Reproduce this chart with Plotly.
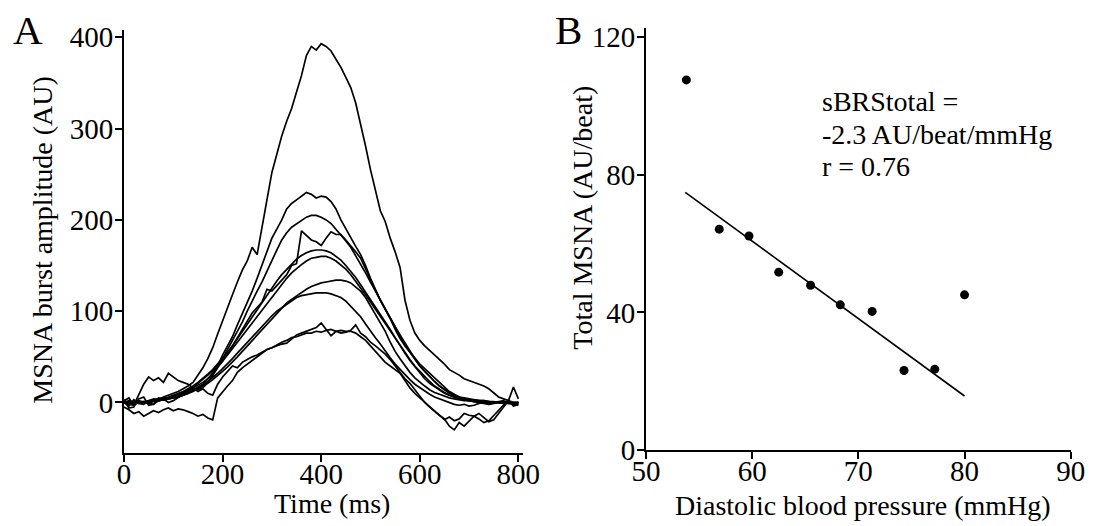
import plotly.graph_objects as go

# ---------------- Panel A data: MSNA burst traces (AU) vs time (ms) ----------------
time_ms = list(range(0, 801, 10))

burst_1 = [0, -4, 3, -1, -2, 2, 4, 3, 6, 8,
           10, 12, 15, 18, 22, 30, 38, 48, 60, 75,
           90, 104, 118, 132, 145, 155, 170, 162, 192, 225,
           252, 272, 292, 308, 322, 340, 358, 380, 390, 386,
           393, 390, 385, 376, 367, 356, 345, 328, 305, 281,
           255, 232, 210, 198, 180, 165, 148, 112, 90, 76,
           68, 62, 57, 52, 48, 42, 36, 33, 30, 26,
           24, 22, 20, 18, 15, 10, 6, 4, 2, 0,
           -2]
burst_2 = [2, -2, -3, 1, 1, -1, -2, 2, 3, 4,
           5, 7, 8, 12, 15, 14, 16, 22, 30, 40,
           52, 62, 72, 85, 97, 110, 122, 136, 150, 165,
           180, 190, 200, 212, 218, 222, 226, 230, 228, 224,
           226, 225, 220, 212, 200, 190, 180, 171, 162, 150,
           136, 124, 112, 102, 92, 80, 70, 62, 55, 48,
           42, 37, 32, 27, 22, 17, 12, 9, 6, 5,
           4, 3, 2, 2, 1, 0, 0, -1, -1, 0,
           0]
burst_3 = [0, 1, 1, 0, 0, 1, 2, 2, 3, 5,
           6, 8, 10, 13, 16, 19, 22, 26, 30, 38,
           48, 58, 68, 78, 88, 100, 112, 122, 132, 144,
           155, 167, 178, 186, 192, 196, 200, 203, 205, 205,
           203, 200, 196, 190, 184, 177, 170, 161, 152, 142,
           132, 122, 112, 102, 92, 82, 72, 63, 55, 47,
           40, 34, 28, 23, 18, 14, 10, 8, 6, 4,
           3, 3, 2, 2, 1, 1, 0, 0, 0, 0,
           0]
burst_4 = [3, -6, -5, 4, 6, -3, -2, 5, 4, 0,
           2, 6, 9, 11, 14, 17, 20, 26, 32, 38,
           45, 53, 62, 71, 80, 88, 98, 104, 110, 124,
           122, 128, 134, 140, 150, 152, 188, 183, 178, 176,
           172, 180, 187, 184, 184, 178, 172, 165, 158, 146,
           135, 123, 112, 102, 92, 83, 74, 65, 56, 48,
           40, 34, 28, 23, 18, 14, 10, 7, 4, 3,
           2, 1, 0, -1, -2, 0, 1, 2, -1, -2,
           -3]
burst_5 = [0, -1, 1, 0, 1, 2, 3, 4, 5, 6,
           8, 10, 12, 15, 18, 22, 26, 31, 36, 42,
           48, 55, 62, 70, 78, 86, 94, 102, 110, 118,
           126, 133, 140, 146, 152, 157, 161, 164, 166, 167,
           167, 166, 164, 160, 156, 150, 144, 137, 129, 121,
           112, 104, 96, 88, 80, 71, 62, 54, 46, 39,
           32, 26, 21, 17, 13, 10, 8, 6, 4, 3,
           2, 2, 1, 1, 0, 0, 0, 0, 0, 0,
           0]
burst_6 = [0, 1, 0, -1, 0, 1, 2, 3, 4, 5,
           7, 9, 11, 14, 17, 21, 25, 30, 35, 40,
           46, 52, 59, 66, 73, 80, 88, 95, 102, 109,
           116, 123, 130, 136, 142, 147, 151, 155, 158, 159,
           160, 160, 158, 155, 151, 146, 140, 133, 126, 118,
           110, 102, 94, 86, 78, 70, 62, 54, 47, 40,
           34, 28, 23, 18, 14, 11, 8, 6, 5, 4,
           3, 2, 2, 1, 1, 0, 0, -1, 0, -1,
           0]
burst_7 = [0, 2, -1, 1, 0, 1, 2, 2, 3, 4,
           5, 6, 8, 10, 12, 15, 18, 21, 25, 29,
           34, 39, 44, 50, 56, 62, 68, 74, 80, 86,
           92, 98, 104, 109, 113, 117, 121, 124, 127, 129,
           131, 132, 133, 134, 134, 133, 131, 127, 122, 115,
           106, 97, 88, 78, 66, 56, 48, 40, 33, 27,
           22, 18, 14, 11, 9, 7, 5, 4, 3, 2,
           2, 1, 1, 0, 0, 0, 0, 0, -1, 0,
           0]
burst_8 = [0, -2, 1, 2, 0, -1, 1, 2, 3, 4,
           5, 6, 8, 10, 13, 16, 19, 23, 27, 32,
           37, 42, 48, 54, 60, 66, 72, 77, 83, 89,
           95, 100, 104, 108, 112, 115, 117, 118, 119, 120,
           120, 120, 119, 117, 115, 111, 105, 99, 94, 86,
           78, 71, 64, 56, 49, 42, 36, 30, 25, 20,
           16, 12, 9, 6, 4, 2, 0, -2, -3, -2,
           -4, -3, -1, 0, -2, -1, 0, 1, 0, -1,
           0]
burst_9 = [-5, -8, -12, -10, -15, -12, -9, -11, -8, -6,
           -9, -7, -8, -10, -12, -15, -13, -17, -19, 5,
           12, 18, 24, 33, 38, 42, 47, 50, 54, 58,
           60, 62, 64, 65, 70, 74, 76, 78, 80, 82,
           87, 80, 73, 78, 76, 77, 79, 85, 76, 72,
           66, 62, 58, 53, 47, 40, 33, 26, 21, 14,
           8, 0, -5, -10, -14, -18, -26, -30, -22, -26,
           -20, -15, -12, -16, -21, -19, -12, -5, 2, 17,
           4]
burst_10 = [2, 5, -3, 8, 20, 28, 24, 27, 22, 32,
            28, 24, 22, 20, 16, 12, 15, 10, 8, 20,
            28, 34, 40, 38, 44, 47, 50, 52, 55, 58,
            60, 63, 66, 68, 71, 72, 74, 76, 76, 78,
            77, 79, 80, 78, 79, 78, 78, 76, 72, 68,
            62, 56, 50, 44, 40, 36, 32, 24, 16, 10,
            5, 0, -5, -10, -14, -19, -16, -20, -18, -12,
            -14, -15, -18, -22, -20, -14, -8, -2, 3, -4,
            -2]

bursts = [burst_1, burst_2, burst_3, burst_4, burst_5,
          burst_6, burst_7, burst_8, burst_9, burst_10]

# ---------------- Panel B data ----------------
dbp_mmhg = [53.8, 56.9, 59.7, 62.5, 65.5, 68.3, 71.3, 74.3, 77.2, 80.0]
total_msna = [107.6, 64.2, 62.2, 51.7, 47.9, 42.2, 40.3, 23.1, 23.5, 45.1]
fit_dbp = [53.7, 80.0]
fit_msna = [74.9, 15.7]

ticks_a_x = [0, 200, 400, 600, 800]
ticks_a_y = [0, 100, 200, 300, 400]
ticks_b_x = [50, 60, 70, 80, 90]
ticks_b_y = [0, 40, 80, 120]

W, H = 1096, 526
FONT = "Liberation Serif, Times New Roman, serif"


def px(x):
    return x / W


def py(y):
    return 1 - y / H


fig = go.Figure()

for b in bursts:
    fig.add_trace(go.Scatter(x=time_ms, y=b, mode="lines",
                             line=dict(color="black", width=1.7),
                             xaxis="x", yaxis="y", showlegend=False,
                             hoverinfo="skip"))

fig.add_trace(go.Scatter(x=fit_dbp, y=fit_msna, mode="lines",
                         line=dict(color="black", width=1.6),
                         xaxis="x2", yaxis="y2", showlegend=False))
fig.add_trace(go.Scatter(x=dbp_mmhg, y=total_msna, mode="markers",
                         marker=dict(color="black", size=9),
                         xaxis="x2", yaxis="y2", showlegend=False))

axis_common = dict(showline=True, linecolor="black", linewidth=2,
                   ticks="outside", ticklen=7, tickwidth=2, tickcolor="black",
                   showgrid=False, zeroline=False, automargin=False,
                   tickfont=dict(family=FONT, size=29, color="black"))
x_common = dict(ticklabelstandoff=-13, **axis_common)
y_common = dict(ticklabelstandoff=-4, **axis_common)

fig.update_layout(
    width=W, height=H,
    margin=dict(l=0, r=0, t=0, b=0, pad=0, autoexpand=False),
    paper_bgcolor="white", plot_bgcolor="white",
    xaxis=dict(domain=[px(124), px(523.3)], range=[0, 810],
               tickvals=ticks_a_x, anchor="y", **x_common),
    yaxis=dict(domain=[py(452.7), py(30)], range=[-55, 408],
               tickvals=ticks_a_y, anchor="x", **y_common),
    xaxis2=dict(domain=[px(646), px(1070.7)], range=[50, 90],
                tickvals=ticks_b_x, anchor="y2", **x_common),
    yaxis2=dict(domain=[py(450), py(28.3)], range=[0, 122.6],
                tickvals=ticks_b_y, anchor="x2", **y_common),
)

def ann(text, x, y, size=28, angle=0, xanchor="center", yanchor="middle"):
    fig.add_annotation(text=text, x=px(x), y=py(y), xref="paper", yref="paper",
                       showarrow=False, textangle=angle,
                       xanchor=xanchor, yanchor=yanchor,
                       font=dict(family=FONT, size=size, color="black"))

ann("A", 28, 29.5, size=41)
ann("B", 568, 29.5, size=41)
ann("MSNA burst amplitude (AU)", 41.7, 240, angle=-90)
ann("Time (ms)", 331.7, 503)
ann("Total MSNA (AU/beat)", 581.7, 218, angle=-90)
ann("Diastolic blood pressure (mmHg)", 862.5, 505)
ann("sBRStotal =", 820, 101.7, xanchor="left")
ann("-2.3 AU/beat/mmHg", 820, 135, xanchor="left")
ann("r = 0.76", 820, 166.7, xanchor="left")

fig.write_html("out.html")
